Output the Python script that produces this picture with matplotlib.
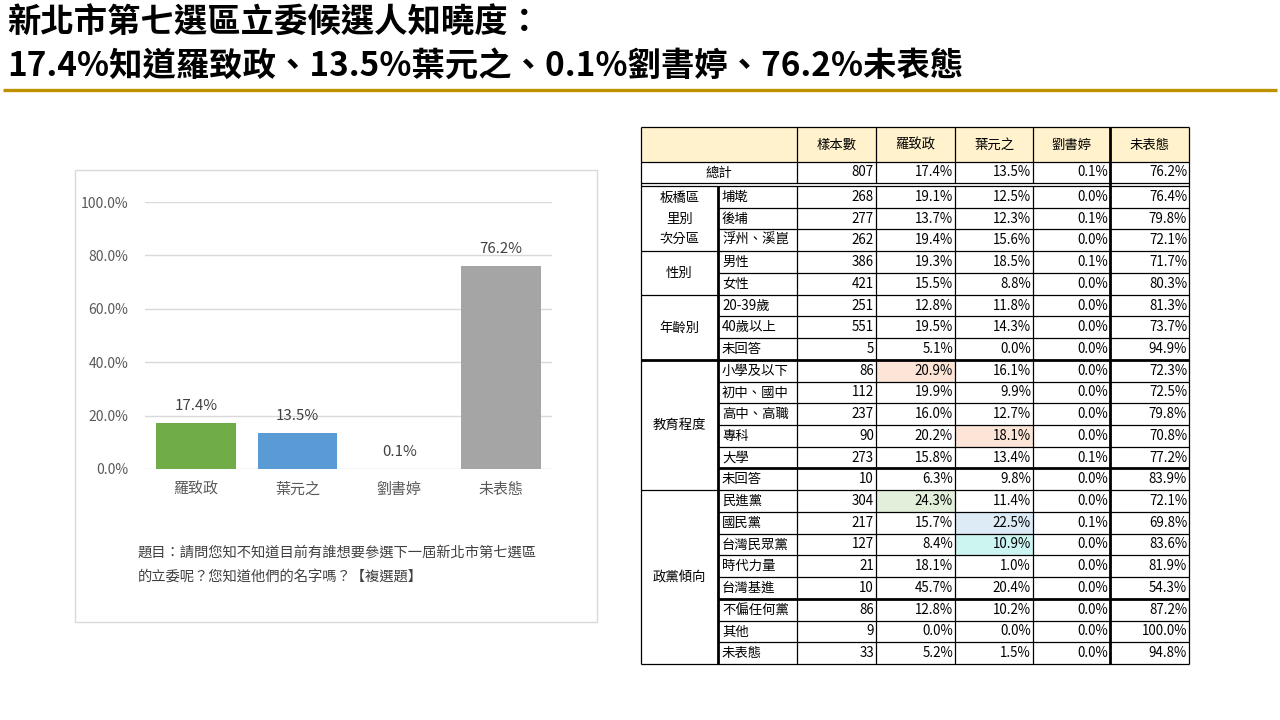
import matplotlib
matplotlib.use("Agg")
import matplotlib.pyplot as plt
from matplotlib.patches import Rectangle

plt.rcParams['font.family'] = ['Noto Sans CJK TC', 'DejaVu Sans']

# ---- data -------------------------------------------------------------
title_1 = "新北市第七選區立委候選人知曉度："
title_2 = "17.4%知道羅致政、13.5%葉元之、0.1%劉書婷、76.2%未表態"
question = "題目：請問您知不知道目前有誰想要參選下一屆新北市第七選區\n的立委呢？您知道他們的名字嗎？【複選題】"

candidates = ["羅致政", "葉元之", "劉書婷", "未表態"]
overall_pct = [17.4, 13.5, 0.1, 76.2]
bar_colors = ["#70AD47", "#5B9BD5", "#ED7D31", "#A5A5A5"]
y_ticks = [0, 20, 40, 60, 80, 100]

header = ["樣本數", "羅致政", "葉元之", "劉書婷", "未表態"]
total_n = 807
groups = ["板橋區\n里別\n次分區", "性別", "年齡別", "教育程度", "政黨傾向"]
group_sizes = [3, 2, 3, 6, 8]
sub_labels = ["埔墘", "後埔", "浮州、溪崑", "男性", "女性", "20-39歲", "40歲以上", "未回答",
              "小學及以下", "初中、國中", "高中、高職", "專科", "大學", "未回答",
              "民進黨", "國民黨", "台灣民眾黨", "時代力量", "台灣基進", "不偏任何黨", "其他", "未表態"]
sample_n = [268, 277, 262, 386, 421, 251, 551, 5, 86, 112, 237, 90, 273, 10,
            304, 217, 127, 21, 10, 86, 9, 33]
luo = [19.1, 13.7, 19.4, 19.3, 15.5, 12.8, 19.5, 5.1, 20.9, 19.9, 16.0, 20.2, 15.8, 6.3,
       24.3, 15.7, 8.4, 18.1, 45.7, 12.8, 0.0, 5.2]
ye = [12.5, 12.3, 15.6, 18.5, 8.8, 11.8, 14.3, 0.0, 16.1, 9.9, 12.7, 18.1, 13.4, 9.8,
      11.4, 22.5, 10.9, 1.0, 20.4, 10.2, 0.0, 1.5]
liu = [0.0, 0.1, 0.0, 0.1, 0.0, 0.0, 0.0, 0.0, 0.0, 0.0, 0.0, 0.0, 0.1, 0.0,
       0.0, 0.1, 0.0, 0.0, 0.0, 0.0, 0.0, 0.0]
undecided = [76.4, 79.8, 72.1, 71.7, 80.3, 81.3, 73.7, 94.9, 72.3, 72.5, 79.8, 70.8, 77.2, 83.9,
             72.1, 69.8, 83.6, 81.9, 54.3, 87.2, 100.0, 94.8]
# highlighted cells: (row, column of pct value) -> fill
highlights = {(8, 1): "#FCE4D6", (11, 2): "#FCE4D6", (14, 1): "#E2EFDA",
              (15, 2): "#DDEBF7", (16, 2): "#CCF5F2"}

# ---- figure -----------------------------------------------------------
fig = plt.figure(figsize=(12.8, 7.2), dpi=100)
bg = fig.add_axes([0, 0, 1, 1])
bg.set_xlim(0, 1280)
bg.set_ylim(720, 0)
bg.axis("off")

bg.text(7, 23, title_1, fontsize=24, fontweight="bold", va="center", ha="left")
bg.text(7, 66, title_2, fontsize=24, fontweight="bold", va="center", ha="left")
bg.plot([3, 1277], [90, 90], color="#BF9000", lw=2.4, solid_capstyle="butt")

# chart frame + question
bg.add_patch(Rectangle((75, 170), 522, 452, fill=False, ec="#D9D9D9", lw=1))
bg.text(138, 565, question, fontsize=10.3, color="#404040", va="center", ha="left",
        linespacing=1.85)

# ---- bar chart --------------------------------------------------------
ax = fig.add_axes([145 / 1280, 1 - 469 / 720, 407 / 1280, 267 / 720])
ax.set_facecolor("none")
xs = range(len(candidates))
ax.bar(xs, [v / 100 for v in overall_pct], width=0.78, color=bar_colors, zorder=3)
for x, v in zip(xs, overall_pct):
    ax.annotate("%.1f%%" % v, (x, v / 100), xytext=(0, 7), textcoords="offset points",
                ha="center", va="bottom", fontsize=10.8, color="#404040")
ax.set_xlim(-0.5, 3.5)
ax.set_ylim(0, 1.0)
ax.set_yticks([t / 100 for t in y_ticks])
ax.set_yticklabels(["%.1f%%" % t for t in y_ticks])
ax.set_xticks(list(xs))
ax.set_xticklabels(candidates)
ax.tick_params(axis="both", length=0, colors="#595959", labelsize=10)
ax.tick_params(axis="y", pad=12)
ax.tick_params(axis="x", pad=10, labelsize=10.8)
ax.grid(axis="y", color="#D9D9D9", lw=1, zorder=0)
for s in ax.spines.values():
    s.set_visible(False)

# ---- table ------------------------------------------------------------
col_x = [641, 718, 797, 876, 955, 1033, 1110, 1189]
head_top, head_bot = 127, 162
tot_bot = 183
data_top, data_bot = 186, 664
n_rows = len(sub_labels)
row_h = (data_bot - data_top) / n_rows
row_y = [data_top + k * row_h for k in range(n_rows + 1)]
fs = 9.6
thin, thick = 0.9, 2.0

bg.add_patch(Rectangle((col_x[0], head_top), col_x[-1] - col_x[0], head_bot - head_top,
                       fc="#FFF2CC", ec="none"))
for (r, c), colr in highlights.items():
    bg.add_patch(Rectangle((col_x[c + 2], row_y[r]), col_x[c + 3] - col_x[c + 2], row_h,
                           fc=colr, ec="none"))

def hline(y, x0, x1, lw=thin):
    bg.plot([x0, x1], [y, y], color="black", lw=lw, solid_capstyle="butt")

def vline(x, y0, y1, lw=thin):
    bg.plot([x, x], [y0, y1], color="black", lw=lw, solid_capstyle="butt")

# header + total
for j, h in enumerate(header):
    bg.text((col_x[j + 2] + col_x[j + 3]) / 2, (head_top + head_bot) / 2, h,
            ha="center", va="center", fontsize=fs)
bg.text((col_x[0] + col_x[2]) / 2, (head_bot + tot_bot) / 2, "總計",
        ha="center", va="center", fontsize=fs)
total_vals = [str(total_n)] + ["%.1f%%" % v for v in overall_pct]
for j, t in enumerate(total_vals):
    bg.text(col_x[j + 3] - 2, (head_bot + tot_bot) / 2, t, ha="right", va="center", fontsize=fs)

# body
for i in range(n_rows):
    yc = (row_y[i] + row_y[i + 1]) / 2
    bg.text(col_x[1] + 4, yc, sub_labels[i], ha="left", va="center", fontsize=fs)
    vals = [str(sample_n[i]), "%.1f%%" % luo[i], "%.1f%%" % ye[i],
            "%.1f%%" % liu[i], "%.1f%%" % undecided[i]]
    for j, t in enumerate(vals):
        bg.text(col_x[j + 3] - 2, yc, t, ha="right", va="center", fontsize=fs)

start = 0
for g, size in zip(groups, group_sizes):
    yc = (row_y[start] + row_y[start + size]) / 2
    bg.text((col_x[0] + col_x[1]) / 2, yc, g, ha="center", va="center", fontsize=fs,
            linespacing=1.6)
    start += size

# borders
hline(head_top, col_x[0], col_x[-1])
hline(head_bot, col_x[0], col_x[-1])
hline(tot_bot, col_x[0], col_x[-1])
hline(data_top, col_x[0], col_x[-1])
hline(data_bot, col_x[0], col_x[-1])
vline(col_x[0], head_top, data_bot)
vline(col_x[-1], head_top, data_bot)
for x in col_x[2:6]:
    vline(x, head_top, tot_bot)
    vline(x, data_top, data_bot)
vline(col_x[6], head_top, data_bot, lw=thick)
vline(col_x[1], data_top, data_bot, lw=thick)

group_edges = [0]
for size in group_sizes:
    group_edges.append(group_edges[-1] + size)
thick_full = [8]
thick_sub = [13, 19]
for k in range(1, n_rows):
    if k in group_edges:
        hline(row_y[k], col_x[0], col_x[-1], lw=thick if k in thick_full else thin)
    else:
        hline(row_y[k], col_x[1], col_x[-1], lw=thick if k in thick_sub else thin)

fig.savefig("out.png", dpi=100)
